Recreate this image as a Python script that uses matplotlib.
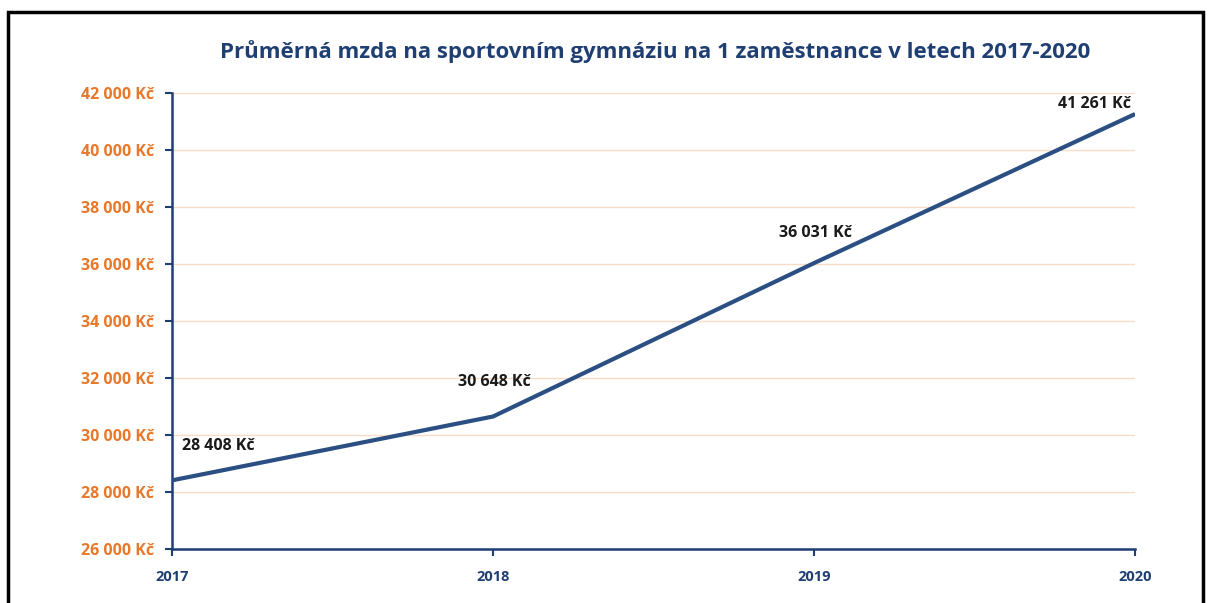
import matplotlib.pyplot as plt
from matplotlib.patches import Rectangle
from matplotlib.ticker import FuncFormatter

years = [2017, 2018, 2019, 2020]
wages = [28408, 30648, 36031, 41261]
wage_labels = ["28 408 Kč", "30 648 Kč", "36 031 Kč", "41 261 Kč"]
y_ticks = [26000, 28000, 30000, 32000, 34000, 36000, 38000, 40000, 42000]

NAVY = "#1f3f73"
LINE = "#2b4f83"
ORANGE = "#e8782a"
GRID = "#f9dcc8"

plt.rcParams["font.family"] = ["Open Sans", "DejaVu Sans"]

fig = plt.figure(figsize=(12.08, 6.03), dpi=100)
ax = fig.add_axes([0.1424, 0.0896, 0.7972, 0.7562])

ax.plot(years, wages, color=LINE, lw=3, solid_capstyle="butt", zorder=3)

# label offsets in points, relative to each point
offsets = [(33, 25), (1, 25), (1, 22), (-29, 7)]
for x, y, txt, off in zip(years, wages, wage_labels, offsets):
    ax.annotate(txt, (x, y), xytext=off, textcoords="offset points",
                ha="center", va="center", fontsize=11.5, fontweight="bold",
                color="#1a1a1a")

ax.set_xlim(years[0], years[-1])
ax.set_ylim(y_ticks[0], y_ticks[-1])
ax.set_xticks(years)
ax.set_yticks(y_ticks)
ax.yaxis.set_major_formatter(FuncFormatter(lambda v, p: f"{int(v):,} Kč".replace(",", " ")))

for lbl in ax.get_yticklabels():
    lbl.set_color(ORANGE)
    lbl.set_fontweight("bold")
    lbl.set_fontsize(11.5)
for lbl in ax.get_xticklabels():
    lbl.set_color(NAVY)
    lbl.set_fontweight("bold")
    lbl.set_fontsize(10.5)

ax.tick_params(axis="both", color=NAVY, width=1.5, length=5)
ax.tick_params(axis="y", pad=8)
ax.tick_params(axis="x", pad=10)
ax.grid(axis="y", color=GRID, lw=1)
ax.set_axisbelow(True)

for side in ["top", "right"]:
    ax.spines[side].set_visible(False)
for side in ["left", "bottom"]:
    ax.spines[side].set_color(NAVY)
    ax.spines[side].set_linewidth(1.8)

fig.text(0.542, 0.915, "Průměrná mzda na sportovním gymnáziu na 1 zaměstnance v letech 2017-2020",
         ha="center", va="center", fontsize=16, fontweight="bold", color=NAVY)

# outer frame
fig.patches.append(Rectangle((8 / 1208, -0.05), 1195 / 1208, 1.05 - 12 / 603,
                             transform=fig.transFigure, fill=False,
                             edgecolor="black", lw=2.5))

fig.savefig("out.png", dpi=100)
